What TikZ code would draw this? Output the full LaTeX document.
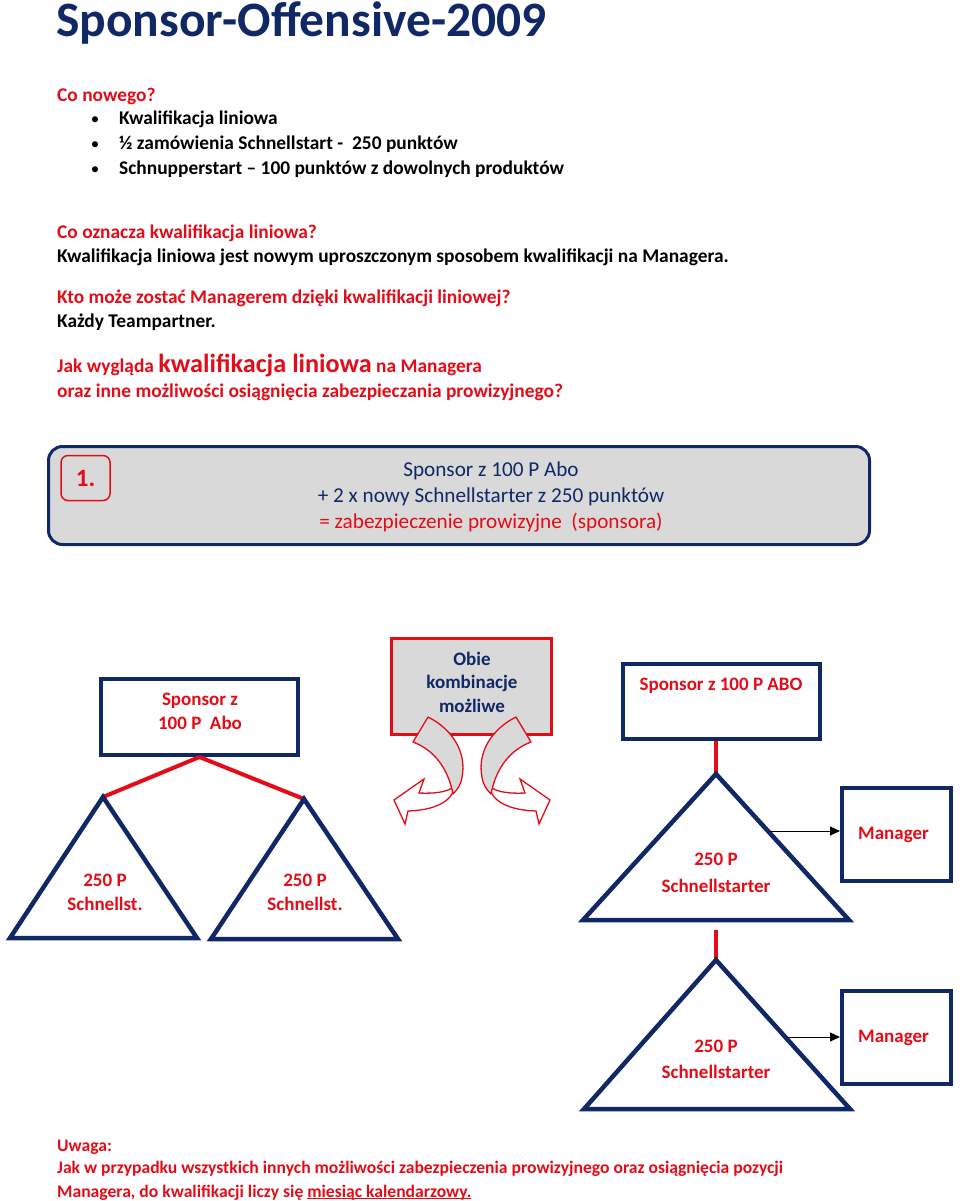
\documentclass[tikz,border=0pt]{standalone}
\usepackage{fontspec}
\setmainfont{Carlito}
\usetikzlibrary{arrows.meta}
\definecolor{navy}{RGB}{17,40,102}
\definecolor{myred}{RGB}{228,12,24}
\definecolor{boxgray}{RGB}{217,217,217}
\newcommand\myul[1]{\setbox0=\hbox{#1}\rlap{\rule[-2.2pt]{\wd0}{1.1pt}}#1}
\tikzset{
  body/.style={font=\fontsize{19.4}{24}\selectfont\bfseries, inner sep=0, anchor=base west},
  redtxt/.style={body, text=myred},
  blktxt/.style={body, text=black},
  notetxt/.style={body, text=myred, font=\fontsize{17.6}{22}\selectfont\bfseries},
  navybox/.style={draw=navy, line width=4, fill=white, inner sep=0},
  tri/.style={draw=navy, line width=4.5, line join=miter, fill=white},
  redlink/.style={draw=myred, line width=4},
  ptr/.style={draw=black, line width=1, -{Triangle[length=10,width=9]}},
  blocktxt/.style={align=center, inner sep=0, font=\fontsize{19}{24}\selectfont\bfseries, text=myred},
  mgr/.style={navybox, minimum width=109, minimum height=93, text=myred, font=\fontsize{19}{24}\selectfont\bfseries},
  ribbonback/.style={fill=boxgray, draw=myred, line width=1.3, line join=round},
  ribbonfront/.style={fill=white, draw=myred, line width=1.3, line join=miter},
}
\begin{document}
\begin{tikzpicture}[x=1pt,y=-1pt]
\useasboundingbox (0,0) rectangle (960,1201);
\fill[white] (0,0) rectangle (960,1201);

% heading and text
\node[anchor=base west, inner sep=0, text=navy, font=\fontsize{49.5}{55}\selectfont\bfseries] (title) at (56,37) {Sponsor-Offensive-2009};
\node[redtxt] (q1) at (57,102) {Co nowego?};
\node[blktxt, anchor=base, font=\fontsize{17}{24}\selectfont] (d1) at (95,125) {•};
\node[blktxt, anchor=base, font=\fontsize{17}{24}\selectfont] (d2) at (95,150) {•};
\node[blktxt, anchor=base, font=\fontsize{17}{24}\selectfont] (d3) at (95,175) {•};
\node[blktxt] (b1) at (119,125) {Kwalifikacja liniowa};
\node[blktxt] (b2) at (119,150) {½ zamówienia Schnellstart -\ \ 250 punktów};
\node[blktxt] (b3) at (119,175) {Schnupperstart – 100 punktów z dowolnych produktów};
\node[redtxt] (q2) at (57,238) {Co oznacza kwalifikacja liniowa?};
\node[blktxt] (a2) at (57,262) {Kwalifikacja liniowa jest nowym uproszczonym sposobem kwalifikacji na Managera.};
\node[redtxt] (q3) at (57,303) {Kto może zostać Managerem dzięki kwalifikacji liniowej?};
\node[blktxt] (a3) at (57,327) {Każdy Teampartner.};
\node[redtxt] (q4) at (57,372) {Jak wygląda {\fontsize{26.2}{30}\selectfont kwalifikacja liniowa} na Managera};
\node[redtxt] (q4b) at (57,397) {oraz inne możliwości osiągnięcia zabezpieczania prowizyjnego?};

% box 1
\node[draw=navy, line width=3, fill=boxgray, rounded corners=14, minimum width=821, minimum height=98, inner sep=0] (box1) at (459,495.5) {};
\node[draw=myred, line width=1.5, fill=boxgray, rounded corners=7, minimum width=49, minimum height=45, inner sep=0, text=myred, font=\fontsize{25}{28}\selectfont\bfseries] (num) at (85.5,478) {1.};
\node[align=center, inner sep=0, font=\fontsize{21.2}{26}\selectfont, text=navy] (box1txt) at (491,497) {Sponsor z 100 P Abo\\+ 2 x nowy Schnellstarter z 250 punktów\\\textcolor{myred}{= zabezpieczenie prowizyjne\ \ (sponsora)}};

% left tree
\node[navybox, minimum width=197, minimum height=76] (lbox) at (199.5,717) {};
\node[blocktxt] (lboxtxt) at (200,711) {Sponsor z\\100 P\ \ Abo};
\coordinate (t1a) at (103,797); \coordinate (t1l) at (10,938); \coordinate (t1r) at (197,938);
\coordinate (t2a) at (304,799); \coordinate (t2l) at (211,939); \coordinate (t2r) at (398,939);
\draw[redlink] (lbox.south) -- (t1a);
\draw[redlink] (lbox.south) -- (t2a);
\draw[tri] (t1a) -- (t1r) -- (t1l) -- cycle;
\draw[tri] (t2a) -- (t2r) -- (t2l) -- cycle;
\node[blocktxt] (t1txt) at (105,892) {250 P\\Schnellst.};
\node[blocktxt] (t2txt) at (305,892) {250 P\\Schnellst.};

% middle box with curved arrows
\node[draw=myred, line width=3, fill=boxgray, minimum width=160, minimum height=96, inner sep=0] (mbox) at (471.5,686.5) {};
\node[align=center, inner sep=0, text=navy, font=\fontsize{19}{23.5}\selectfont\bfseries] (mtxt) at (472,682) {Obie\\kombinacje\\możliwe};
\foreach \s in {1,-1}{
  \begin{scope}[shift={(472,0)}, xscale=\s, shift={(-472,0)}]
    \filldraw[ribbonfront] (462,772) .. controls (460,791) and (441,794) .. (419,793) -- (424,779) -- (394,800) -- (405,824) -- (408,811) .. controls (435,810) and (452,802) .. (455,786) -- cycle;
    \filldraw[ribbonback] (413,742) -- (428,717) .. controls (452,729) and (467,752) .. (462,777) .. controls (461,785) and (457,790) .. (453,794) .. controls (448,768) and (434,750) .. (413,742) -- cycle;
  \end{scope}
}

% right tree
\node[navybox, minimum width=197, minimum height=75] (rbox) at (721.5,701.5) {};
\node[redtxt, anchor=base, font=\fontsize{19}{24}\selectfont\bfseries] (rtxt) at (721,690) {Sponsor z 100 P ABO};
\coordinate (t3a) at (716,774); \coordinate (t3l) at (583,920); \coordinate (t3r) at (849,920);
\coordinate (t4a) at (716,960); \coordinate (t4l) at (584,1109); \coordinate (t4r) at (850,1109);
\coordinate (gap1) at (716,930);
\draw[redlink] (rbox.south -| t3a) -- (t3a);
\draw[redlink] (gap1) -- (t4a);
\draw[tri] (t3a) -- (t3r) -- (t3l) -- cycle;
\draw[tri] (t4a) -- (t4r) -- (t4l) -- cycle;
\node[blocktxt, font=\fontsize{19}{27}\selectfont\bfseries] (t3txt) at (716,873) {250 P\\Schnellstarter};
\node[blocktxt, font=\fontsize{19}{26}\selectfont\bfseries] (t4txt) at (716,1059) {250 P\\Schnellstarter};
\node[mgr] (m1) at (896.5,834.5) {\hspace*{-6pt}Manager};
\node[mgr] (m2) at (896.5,1037.5) {\hspace*{-6pt}Manager};
\coordinate (p1) at (770,831);
\coordinate (p2) at (787,1037);
\draw[ptr] (p1) -- (m1.west |- p1);
\draw[ptr] (p2) -- (m2.west |- p2);

% note
\node[notetxt] (n1) at (57,1151) {Uwaga:};
\node[notetxt] (n2) at (57,1173) {Jak w przypadku wszystkich innych możliwości zabezpieczenia prowizyjnego oraz osiągnięcia pozycji};
\node[notetxt] (n3) at (57,1197) {Managera, do kwalifikacji liczy się \myul{miesiąc kalendarzowy.}};
\end{tikzpicture}
\end{document}
